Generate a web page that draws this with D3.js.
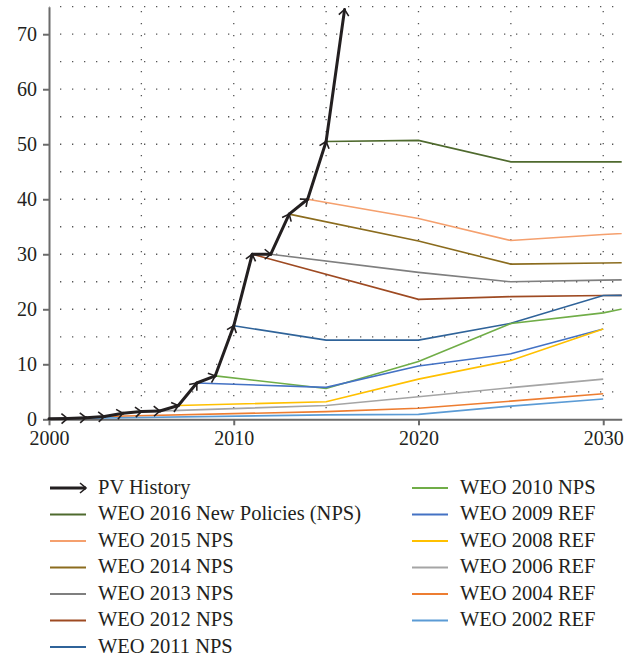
<!DOCTYPE html>
<html>
<head>
<meta charset="utf-8">
<script src="https://cdn.jsdelivr.net/npm/d3@7"></script>
<style>
  body { margin: 0; background: #fff; }
  svg { display: block; font-family: "Liberation Serif", "DejaVu Serif", serif; }
  .grid line { stroke: #555; stroke-width: 1.3; stroke-dasharray: 1.3,10.7; }
  .axis path, .axis line { stroke: #6b6b6b; stroke-width: 2; }
  .legend text { fill: #231f20; font-size: 20.5px; }
</style>
</head>
<body>
<div id="chart"></div>
<script>
"use strict";

// PV history
var pvYears = [2000, 2001, 2002, 2003, 2004, 2005, 2006, 2007, 2008, 2009, 2010, 2011, 2012, 2013, 2014, 2015, 2016];
var pvValues = [0.1, 0.15, 0.3, 0.5, 1.1, 1.4, 1.5, 2.5, 6.6, 7.9, 17, 30, 30, 37.3, 40, 50.5, 74.5];

// WEO projections: names, colours, years and values
var weoNames = ["WEO 2016 New Policies (NPS)", "WEO 2015 NPS", "WEO 2014 NPS", "WEO 2013 NPS",
	"WEO 2012 NPS", "WEO 2011 NPS", "WEO 2010 NPS", "WEO 2009 REF", "WEO 2008 REF",
	"WEO 2006 REF", "WEO 2004 REF", "WEO 2002 REF"];
var weoColors = ["#4f6a2e", "#f5a06e", "#8b6c1e", "#7f7f7f", "#9e4a22", "#2f6399",
	"#70ad47", "#4472c4", "#ffc000", "#a5a5a5", "#ed7d31", "#5b9bd5"];
var weoYears = [
	[2015, 2020, 2025, 2030, 2035],
	[2014, 2020, 2025, 2030, 2035],
	[2013, 2020, 2025, 2030, 2035],
	[2012, 2020, 2025, 2030, 2035],
	[2011, 2020, 2025, 2030, 2035],
	[2010, 2015, 2020, 2025, 2030, 2035],
	[2009, 2015, 2020, 2025, 2030, 2035],
	[2008, 2015, 2020, 2025, 2030],
	[2007, 2015, 2020, 2025, 2030],
	[2005, 2015, 2020, 2025, 2030],
	[2003, 2015, 2020, 2025, 2030],
	[2000, 2015, 2020, 2025, 2030]
];
var weoValues = [
	[50.5, 50.7, 46.8, 46.8, 46.8],
	[40, 36.5, 32.5, 33.6, 34.4],
	[37.3, 32.4, 28.2, 28.4, 28.7],
	[30, 26.7, 25.0, 25.3, 25.5],
	[30, 21.8, 22.3, 22.5, 22.6],
	[17, 14.4, 14.4, 17.45, 22.5, 22.6],
	[7.9, 5.6, 10.5, 17.4, 19.35, 22.8],
	[6.6, 5.8, 9.7, 11.9, 16.4],
	[2.5, 3.2, 7.3, 10.7, 16.4],
	[1.4, 2.5, 4.1, 5.75, 7.3],
	[0.5, 1.4, 2.0, 3.3, 4.65],
	[0.1, 0.8, 0.9, 2.4, 3.7]
];

var xTicks = [2000, 2010, 2020, 2030];
var yTicks = [0, 10, 20, 30, 40, 50, 60, 70];
var xGrid = [2005, 2010, 2015, 2020, 2025, 2030];
var yGrid = [5, 10, 15, 20, 25, 30, 35, 40, 45, 50, 55, 60, 65, 70, 75];

var width = 635, height = 656;
var margin = { top: 6.7, left: 49, right: 13.3, bottom: 236.7 };
var plotW = width - margin.left - margin.right,
	plotH = height - margin.top - margin.bottom;

var x = d3.scaleLinear().domain([2000, 2031]).range([0, plotW]);
var y = d3.scaleLinear().domain([0, 75]).range([plotH, 0]);

var svg = d3.select("#chart").append("svg")
	.attr("width", width)
	.attr("height", height);

// Arrow head marker for PV history
var defs = svg.append("defs");
defs.append("marker")
	.attr("id", "chev")
	.attr("markerUnits", "userSpaceOnUse")
	.attr("viewBox", "-10 -10 20 20")
	.attr("markerWidth", 20)
	.attr("markerHeight", 20)
	.attr("orient", "auto")
	.append("path")
	.attr("d", "M-6,-5L0,0L-6,5")
	.attr("fill", "none")
	.attr("stroke", "#231f20")
	.attr("stroke-width", 1.6);

defs.append("clipPath")
	.attr("id", "clip")
	.append("rect")
	.attr("x", 0).attr("y", -2)
	.attr("width", plotW).attr("height", plotH + 2);

var canvas = svg.append("g")
	.attr("transform", "translate(" + margin.left + "," + margin.top + ")");

// Dotted grid
var grid = canvas.append("g").attr("class", "grid");
grid.selectAll(".hg").data(yGrid).enter().append("line")
	.attr("x1", 0).attr("x2", plotW)
	.attr("y1", function (d) { return y(d); })
	.attr("y2", function (d) { return y(d); })
	.style("stroke-dashoffset", -11);
grid.selectAll(".vg").data(xGrid).enter().append("line")
	.attr("x1", function (d) { return x(d); })
	.attr("x2", function (d) { return x(d); })
	.attr("y1", plotH).attr("y2", 0)
	.style("stroke-dashoffset", -11);

// Axes
var xAxis = d3.axisBottom(x).tickValues(xTicks).tickFormat(d3.format("d"))
	.tickSizeInner(6).tickSizeOuter(0).tickPadding(6);
var yAxis = d3.axisLeft(y).tickValues(yTicks)
	.tickSizeInner(6).tickSizeOuter(0).tickPadding(6);

var serif = "Liberation Serif";

var gx = canvas.append("g")
	.attr("class", "x axis")
	.attr("transform", "translate(0," + plotH + ")")
	.call(xAxis);
var gy = canvas.append("g")
	.attr("class", "y axis")
	.call(yAxis);
[gx, gy].forEach(function (g) {
	g.attr("font-family", null).attr("font-size", null);
	g.selectAll("text")
		.style("font-family", serif)
		.style("font-size", "20px")
		.style("fill", "#231f20");
});

// WEO lines
var line = d3.line()
	.x(function (d) { return x(d[0]); })
	.y(function (d) { return y(d[1]); });

var lines = canvas.append("g").attr("clip-path", "url(#clip)");
weoNames.forEach(function (name, i) {
	var pts = weoYears[i].map(function (yr, j) { return [yr, weoValues[i][j]]; });
	lines.append("path")
		.datum(pts)
		.attr("d", line)
		.attr("fill", "none")
		.attr("stroke", weoColors[i])
		.attr("stroke-width", 1.6);
});

// PV history: one segment per year with an arrow head at its end
var pvPts = pvYears.map(function (yr, j) { return [yr, pvValues[j]]; });
var pv = canvas.append("g");
pv.selectAll("line").data(pvPts.slice(1)).enter().append("line")
	.attr("x1", function (d, i) { return x(pvPts[i][0]); })
	.attr("y1", function (d, i) { return y(pvPts[i][1]); })
	.attr("x2", function (d) { return x(d[0]); })
	.attr("y2", function (d) { return y(d[1]); })
	.attr("stroke", "#231f20")
	.attr("stroke-width", 3)
	.attr("stroke-linecap", "round")
	.attr("marker-end", "url(#chev)");

// Legend
var legendItems = [{ name: "PV History", color: "#231f20", pv: true }].concat(
	weoNames.map(function (n, i) { return { name: n, color: weoColors[i] }; }));
var legend = svg.append("g").attr("class", "legend");
legendItems.forEach(function (d, i) {
	var col = i < 7 ? 0 : 1,
		row = i < 7 ? i : i - 7,
		lx = col === 0 ? 50 : 412,
		ly = 488 + row * 26.5;
	var g = legend.append("g").attr("transform", "translate(" + lx + "," + ly + ")");
	g.append("line")
		.attr("x1", 0).attr("x2", 36)
		.attr("stroke", d.color)
		.attr("stroke-width", d.pv ? 3 : 2)
		.attr("marker-end", d.pv ? "url(#chev)" : null);
	g.append("text")
		.attr("x", 48).attr("y", 5.5)
		.text(d.name);
});
</script>
</body>
</html>
